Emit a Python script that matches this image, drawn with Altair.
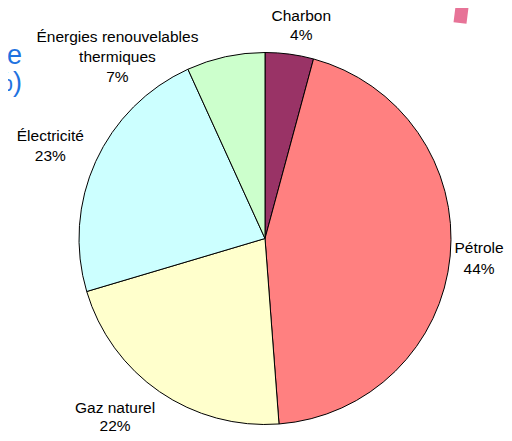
import math
import altair as alt
import pandas as pd

categories = ["Charbon", "Pétrole", "Gaz naturel", "Électricité", "Énergies renouvelables thermiques"]
values = [4.2, 44.6, 21.6, 22.8, 6.8]
labels = ["Charbon\n4%", "Pétrole\n44%", "Gaz naturel\n22%", "Électricité\n23%",
          "Énergies renouvelables\nthermiques\n7%"]
colors = ["#993366", "#FF8080", "#FFFFCC", "#CCFFFF", "#CCFFCC"]

df = pd.DataFrame({
    "cat": categories,
    "value": values,
    "label": labels,
    "idx": list(range(len(categories))),
})

base = alt.Chart(df)

pie = base.mark_arc(radius=186, stroke="black", strokeWidth=1).encode(
    theta=alt.Theta("value:Q", stack=True, scale=alt.Scale(domain=[0, 100])),
    color=alt.Color("cat:N", scale=alt.Scale(domain=categories, range=colors), legend=None),
    order=alt.Order("idx:Q"),
)

# (dx, dy, lineHeight) per label
offsets = {
    "Charbon": (8, -9, 19),
    "Pétrole": (0, -11, 21),
    "Gaz naturel": (-28, -8, 18),
    "Électricité": (-19, -13, 20),
    "Énergies renouvelables thermiques": (-102, 9, 20),
}

layers = [pie]
for c in categories:
    dx, dy, lh = offsets[c]
    t = base.transform_window(
        cum="sum(value)", sort=[alt.SortField("idx")]
    ).transform_calculate(
        mid="datum.cum - datum.value / 2"
    ).transform_filter(
        alt.datum.cat == c
    ).mark_text(
        font="Liberation Sans", fontSize=15.5, lineHeight=lh, lineBreak="\n",
        color="black", align="center", baseline="middle", dx=dx, dy=dy,
    ).encode(
        theta=alt.Theta("mid:Q", scale=alt.Scale(domain=[0, 100], range=[0, 2 * math.pi])),
        radius=alt.value(215),
        text="label:N",
    )
    layers.append(t)

frag = alt.Chart(pd.DataFrame({"t": ["ie", "%)"]})).mark_text(
    font="Liberation Sans", fontSize=27, color="#1f72e0", align="left", baseline="middle"
)
frag1 = frag.transform_filter(alt.datum.t == "ie").encode(text="t:N", x=alt.value(-25), y=alt.value(12))
frag2 = frag.transform_filter(alt.datum.t == "%)").encode(text="t:N", x=alt.value(-37), y=alt.value(39))
bar = alt.Chart(pd.DataFrame({"k": [0]})).mark_rule(
    color="#E4648C", strokeWidth=13, strokeCap="butt", opacity=0.9
).encode(x=alt.value(436), x2=alt.value(434), y=alt.value(-37), y2=alt.value(-21))
layers += [frag1, frag2, bar]

chart = alt.layer(*layers).resolve_scale(theta="independent").properties(
    width=478, height=389,
    padding={"left": 18, "top": 36, "right": 0, "bottom": 0},
    autosize=alt.AutoSizeParams(type="none"),
).configure_view(stroke=None)

chart.save("out.html", embed_options={"renderer": "svg", "actions": False})
